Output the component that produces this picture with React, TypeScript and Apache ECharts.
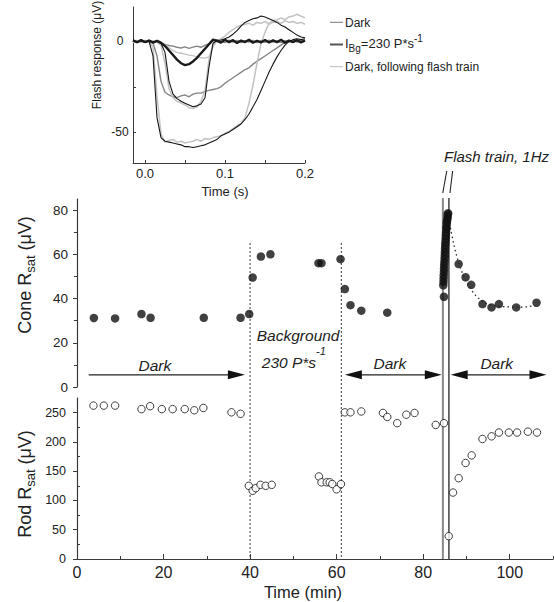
import React, { useEffect, useRef } from "react";
import * as echarts from "echarts";

// ---------- Inset: flash responses (time in s, response in µV) ----------
const T = [-0.015, -0.01, -0.005, 0, 0.005, 0.01, 0.015, 0.02, 0.025, 0.03, 0.035, 0.04, 0.045, 0.05, 0.055, 0.06, 0.065, 0.07, 0.075, 0.08, 0.085, 0.09, 0.095, 0.1, 0.105, 0.11, 0.115, 0.12, 0.125, 0.13, 0.135, 0.14, 0.145, 0.15, 0.155, 0.16, 0.165, 0.17, 0.175, 0.18, 0.185, 0.19, 0.195, 0.2];

const darkSmall = [0.6, -0.4, 0.8, -0.3, 0.5, -0.6, 0.3, -0.8, -2.5, -5, -7.5, -10, -12, -13, -12.5, -11, -9, -6.5, -4, -1.5, 1, 0.3, -0.6, 0.9, -0.4, 0.7, -0.8, 0.5, -0.3, 0.9, -0.7, 0.4, -0.5, 0.8, -0.6, 0.6, -0.4, 0.9, -0.7, 0.5, -0.3, 0.7, -0.5, 0.6];
const bgSmall = [0.5, -0.7, 0.3, -0.4, 0.7, -0.5, 0.2, -0.9, -1.6, -2.2, -2.6, -3.2, -3.6, -3, -3.8, -3.1, -2.6, -3.2, -2.2, -1.2, 0.4, 1, 0.2, -0.6, 0.8, -0.4, 0.6, -0.7, 0.5, -0.3, 0.6, -0.6, 0.4, -0.5, 0.7, -0.4, 0.3, -0.6, 0.5, -0.3, 0.6, -0.4, 0.4, 0.1];
const flashSmall = [0.3, -0.5, 0.6, -0.2, 0.4, -0.6, 0.5, -0.3, -1.5, -3.5, -5, -6, -6.5, -7, -7.5, -7.8, -8.5, -9, -9.2, -8.5, -3, 0.5, -0.4, 0.6, -0.3, 0.7, -0.5, 0.4, -0.6, 0.8, -0.2, 0.5, -0.7, 0.4, -0.3, 0.6, -0.5, 0.7, -0.4, 0.3, -0.6, 0.5, -0.2, 0.4];
const darkMed = [0.4, -0.5, 0.3, -0.6, 0.5, -0.3, 0.2, -1, -6, -22, -29, -31.5, -33, -34, -35, -36, -35.5, -34.5, -31, -14, -1, 0.5, 0.8, 1.5, 2.5, 4, 6, 8.5, 10.5, 11.5, 12.5, 13, 14, 13.5, 12.5, 11.5, 10.5, 9, 8, 6.5, 5, 3.5, 2.5, 2];
const flashMed = [-0.3, 0.6, -0.4, 0.5, -0.2, 0.4, -0.5, -2, -12, -26, -31, -33, -34, -35, -36.5, -37, -36, -33, -27, -10, -1.5, 0.5, 1.5, 3, 5, 6.5, 8, 9, 9.5, 10, 9, 10.5, 10, 11, 9.5, 10.5, 11, 10, 11.5, 10.5, 11, 10, 10.5, 9.5];
const bgMed = [0.5, -0.4, 0.6, -0.3, 0.4, -0.8, -8, -22, -28, -29.5, -30.5, -31, -30, -29.5, -30.5, -29, -28.5, -28.5, -27.5, -27, -26.5, -26, -25, -23, -21.5, -20, -18.5, -17, -15.5, -14.5, -12.5, -11, -9.5, -8, -6.5, -5, -3.5, -2, -0.5, 0.3, -0.4, 0.5, -0.3, 0.4];
const darkLarge = [0.3, -0.4, 0.5, -0.3, 0.2, -8, -42, -53, -55, -55.5, -56, -56.5, -57, -58, -58, -58.5, -58, -57.5, -57, -56, -55, -54, -52, -51, -50, -48.5, -47, -45.5, -43, -40, -36, -32, -27, -22, -17, -12.5, -8.5, -5, -2, 0, 1, 1.5, 1, 1.5];
const flashLarge = [-0.4, 0.3, -0.5, 0.4, -0.3, -3, -30, -51, -55.5, -54.5, -54, -55.5, -55, -56, -55.5, -55, -54, -55, -53.5, -54, -53, -52.5, -52, -50.5, -49.5, -48, -46.5, -45, -42, -34, -24, -12, -1, 5, 10, 11.5, 12, 13, 12, 13.5, 14, 15, 14, 13];

const insetXLabels = [0, 0.1, 0.2];
const insetXTicks = [0, 0.05, 0.1, 0.15, 0.2];
const insetYLabels = [-50, 0];
const insetYTicks = [-50, -25, 0];

// ---------- Cone R_sat (µV) vs time (min) ----------
const coneT = [3.9, 8.8, 14.9, 17, 29.3, 37.8, 39.8, 40.6, 42.5, 44.7, 55.8, 56.5, 60.9, 61.9, 63.2, 65.7, 71.7, 84.8, 88.2, 89.8, 91.1, 93.7, 95.8, 97.5, 101.5, 106.2];
const coneV = [31.2, 31, 33, 31.3, 31.3, 31.3, 33, 49.5, 59, 60, 56, 56, 57.8, 44.3, 37, 34.5, 33.6, 40.8, 55.6, 49.6, 46.2, 37.5, 36, 37.5, 36, 38.1];
const trainT = [84.65, 84.7, 84.72, 84.75, 84.8, 84.82, 84.85, 84.9, 84.95, 85.0, 85.02, 85.05, 85.1, 85.15, 85.2, 85.25, 85.3, 85.35, 85.4, 85.45, 85.5, 85.6, 85.65, 85.7, 85.75];
const trainV = [46, 47.5, 49, 50.5, 52, 53.5, 55, 56.5, 58, 59.5, 61, 62.5, 64, 65.5, 67, 68.5, 70, 71.5, 72.5, 74, 75, 76, 77, 78, 78.6];
const fitT = [85.8, 86.3, 86.8, 87.3, 87.8, 88.3, 88.8, 89.5, 90.3, 91.2, 92.2, 93.3, 94.5, 96, 98, 100, 102, 104, 105.8];
const fitV = [78, 72, 67, 62.5, 58.8, 55.6, 52.8, 49.5, 46.5, 43.7, 41.2, 39.2, 37.8, 36.9, 36.4, 36.2, 36.1, 36.2, 36.8];
const coneLabels = [0, 20, 40, 60, 80];
const coneMinor = [10, 30, 50, 70];

// ---------- Rod R_sat (µV) vs time (min) ----------
const rodT = [3.8, 6.2, 8.8, 14.9, 16.9, 19.6, 22.1, 24.9, 27.1, 29.2, 35.7, 37.8, 39.7, 40.6, 41.3, 42.4, 43.6, 45, 55.9, 56.5, 57.7, 58.4, 59, 60, 61, 61.9, 63.2, 65.7, 70.7, 71.7, 74, 76.1, 78, 82.9, 84.8, 85.9, 86.9, 88.2, 89.8, 91.2, 93.7, 95.8, 97.5, 99.8, 101.7, 104.2, 106.3];
const rodV = [262, 262, 262, 256, 261, 256, 256, 256, 254, 258, 250.5, 248, 125, 116.5, 121, 126.7, 125, 126.7, 141, 131, 131, 131, 128, 119, 128, 250.5, 250.5, 252, 249.5, 242.6, 232, 246.5, 249.5, 229, 232, 39, 113.5, 138, 164, 177, 205, 209.5, 216, 216, 216, 217.5, 216];
const rodLabels = [0, 50, 100, 150, 200, 250];
const rodMinor = [25, 75, 125, 175, 225];
const timeLabels = [0, 20, 40, 60, 80, 100];
const timeMinor = [10, 30, 50, 70, 90, 110];

// Event times (min)
const bgOn = 40;
const bgOff = 61.1;
const trainStart = 84.55;
const trainEnd = 85.95;

const FONT = "'Liberation Sans', Arial, Helvetica, sans-serif";
const AX = "#3a3a3a";
const TXT = "#222";

const zip = (xs: number[], ys: number[]) => xs.map((x, i) => [x, ys[i]]);

export default function App() {
  const ref = useRef<HTMLDivElement>(null);
  useEffect(() => {
    document.body.style.margin = "0";
    const chart = echarts.init(ref.current as HTMLDivElement, null, { renderer: "svg" });

    const trace = (vals: number[], color: string, width: number) => ({
      type: "line",
      xAxisIndex: 0,
      yAxisIndex: 0,
      data: zip(T, vals),
      symbol: "none",
      silent: true,
      lineStyle: { color, width },
    });

    const lineSt = { show: true, lineStyle: { color: AX, width: 1.2 } };

    chart.setOption({
      animation: false,
      backgroundColor: "#fff",
      grid: [
        { left: 133, top: 7, width: 172, height: 156 },
        { left: 77, top: 199, width: 476, height: 188 },
        { left: 77, top: 398, width: 476, height: 161 },
      ],
      xAxis: [
        {
          type: "value", gridIndex: 0, min: -0.015, max: 0.2,
          axisLine: { show: true, onZero: false, lineStyle: { color: AX, width: 1 } },
          axisTick: { show: true, inside: true, length: 3, customValues: insetXTicks, lineStyle: { color: AX } },
          axisLabel: { customValues: insetXLabels, formatter: (v: number) => v.toFixed(1), fontSize: 13, margin: 4, color: TXT, fontFamily: FONT },
          splitLine: { show: false },
        },
        { type: "value", gridIndex: 1, min: 0, max: 110, show: false },
        {
          type: "value", gridIndex: 2, min: 0, max: 110,
          axisLine: { ...lineSt, onZero: false },
          axisTick: { show: true, inside: true, length: 5, customValues: timeLabels, lineStyle: { color: AX } },
          axisLabel: { customValues: timeLabels, fontSize: 16, margin: 5, color: TXT, fontFamily: FONT },
          splitLine: { show: false },
        },
        {
          type: "value", gridIndex: 2, min: 0, max: 110, position: "bottom",
          axisLine: { show: false },
          axisTick: { show: true, inside: true, length: 3, customValues: timeMinor, lineStyle: { color: AX } },
          axisLabel: { show: false },
          splitLine: { show: false },
        },
      ],
      yAxis: [
        {
          type: "value", gridIndex: 0, min: -67, max: 19,
          axisLine: { show: true, onZero: false, lineStyle: { color: AX, width: 1 } },
          axisTick: { show: true, inside: true, length: 3, customValues: insetYTicks, lineStyle: { color: AX } },
          axisLabel: { customValues: insetYLabels, fontSize: 12, margin: 13, align: "center", color: TXT, fontFamily: FONT },
          splitLine: { show: false },
        },
        {
          type: "value", gridIndex: 1, min: 0, max: 85,
          axisLine: { ...lineSt, onZero: false },
          axisTick: { show: true, length: 4, customValues: coneLabels, lineStyle: { color: AX } },
          axisLabel: { customValues: coneLabels, fontSize: 13.5, margin: 9, color: TXT, fontFamily: FONT },
          splitLine: { show: false },
        },
        {
          type: "value", gridIndex: 2, min: 0, max: 275,
          axisLine: { ...lineSt, onZero: false },
          axisTick: { show: true, length: 4, customValues: rodLabels, lineStyle: { color: AX } },
          axisLabel: { customValues: rodLabels, fontSize: 12.5, margin: 11, color: TXT, fontFamily: FONT },
          splitLine: { show: false },
        },
        {
          type: "value", gridIndex: 1, min: 0, max: 85, position: "left",
          axisLine: { show: false },
          axisTick: { show: true, length: 3, customValues: coneMinor, lineStyle: { color: AX } },
          axisLabel: { show: false },
          splitLine: { show: false },
        },
        {
          type: "value", gridIndex: 2, min: 0, max: 275, position: "left",
          axisLine: { show: false },
          axisTick: { show: true, inside: true, length: 3, customValues: rodMinor, lineStyle: { color: AX } },
          axisLabel: { show: false },
          splitLine: { show: false },
        },
      ],
      series: [
        trace(bgMed, "#858585", 1.4),
        trace(bgSmall, "#858585", 1.4),
        trace(flashMed, "#c2c2c2", 1.5),
        trace(flashLarge, "#c2c2c2", 1.5),
        trace(flashSmall, "#c2c2c2", 1.4),
        trace(darkMed, "#151515", 1.1),
        trace(darkLarge, "#151515", 1.1),
        trace(darkSmall, "#1a1a1a", 2.4),
        {
          type: "line", xAxisIndex: 1, yAxisIndex: 1, data: zip(fitT, fitV), symbol: "none", silent: true,
          lineStyle: { color: "#222", width: 1.2, type: [1.5, 3] },
        },
        {
          type: "scatter", xAxisIndex: 1, yAxisIndex: 1, data: zip(coneT, coneV), symbol: "circle", symbolSize: 8.5,
          itemStyle: { color: "#111" }, silent: true,
        },
        {
          type: "scatter", xAxisIndex: 1, yAxisIndex: 1, data: zip(trainT, trainV), symbol: "circle", symbolSize: 8.5,
          itemStyle: { color: "#111" }, silent: true,
        },
        {
          type: "scatter", xAxisIndex: 2, yAxisIndex: 2, data: zip(rodT, rodV), symbol: "circle", symbolSize: 7.5,
          itemStyle: { color: "#fff", borderColor: "#111", borderWidth: 1 }, silent: true,
        },
      ],
    });

    const px = (t: number) => chart.convertToPixel({ xAxisIndex: 1 }, t) as number;
    const cy = (v: number) => chart.convertToPixel({ yAxisIndex: 1 }, v) as number;
    const ry = (v: number) => chart.convertToPixel({ yAxisIndex: 2 }, v) as number;

    const ln = (x1: number, y1: number, x2: number, y2: number, stroke: string, lineWidth: number, lineDash?: number[]) => ({
      type: "line", silent: true, shape: { x1, y1, x2, y2 }, style: { stroke, lineWidth, lineDash },
    });
    const head = (xTip: number, y: number, dir: number) => ({
      type: "polygon", silent: true,
      shape: { points: [[xTip, y], [xTip - dir * 17, y - 4.5], [xTip - dir * 17, y + 4.5]] },
      style: { fill: "#111" },
    });
    const txt = (x: number, y: number, text: string, fontSize: number, extra: any = {}) => ({
      type: "text", silent: true, x, y,
      style: { text, fontSize, fontFamily: FONT, fill: TXT, align: "center", verticalAlign: "middle", ...extra },
    });

    const ya = cy(5.5);
    const yTop = cy(85) - 1;
    const yBot = ry(0);
    const xg = px(trainStart);
    const xb = px(trainEnd);

    const graphic: any[] = [
      // dotted background on/off lines
      ln(px(bgOn), cy(65), px(bgOn), yBot, "#222", 1.2, [1.5, 2.5]),
      ln(px(bgOff), cy(65), px(bgOff), yBot, "#222", 1.2, [1.5, 2.5]),
      // flash train double lines
      ln(xg, yTop, xg, yBot, "#8a8a8a", 2),
      ln(xb, yTop, xb, yBot, "#111", 1.2),
      ln(xg - 0.1, 193, xg + 3.9, 171, "#222", 1.1),
      ln(xb + 1, 193, xb + 3.7, 171, "#222", 1.1),
      // Dark arrows
      ln(px(2.7), ya, px(38.8) - 10, ya, "#222", 1.3),
      head(px(38.8), ya, 1),
      ln(px(61.9) + 10, ya, px(84.3) - 10, ya, "#222", 1.3),
      head(px(61.9), ya, -1),
      head(px(84.3), ya, 1),
      ln(px(86.35) + 10, ya, px(108.5) - 10, ya, "#222", 1.3),
      head(px(86.35), ya, -1),
      head(px(108.5), ya, 1),
      txt(px(18), cy(9.5), "Dark", 15.5, { fontStyle: "italic" }),
      txt(px(72.3), cy(10.8), "Dark", 15.5, { fontStyle: "italic" }),
      txt(px(97), cy(10.8), "Dark", 15.5, { fontStyle: "italic" }),
      txt(px(51.1), cy(23.5), "Background", 15.5, { fontStyle: "italic" }),
      {
        type: "text", silent: true, x: px(42.7), y: cy(11),
        style: {
          text: "{a|230 P*s}{p|-1}", align: "left", verticalAlign: "middle", fill: TXT,
          rich: {
            a: { fontSize: 15.5, lineHeight: 34, fontStyle: "italic", fontFamily: FONT, fill: TXT },
            p: { fontSize: 11, lineHeight: 10, verticalAlign: "top", fontStyle: "italic", fontFamily: FONT, fill: TXT },
          },
        },
      },
      txt(444, 156, "Flash train, 1Hz", 15, { fontStyle: "italic", align: "left" }),
      // inset legend
      ln(330, 22.3, 343, 22.3, "#7a7a7a", 1),
      ln(330, 44.5, 343, 44.5, "#555", 2),
      ln(330, 66.7, 343, 66.7, "#bdbdbd", 1),
      txt(345, 22.5, "Dark", 12, { align: "left" }),
      {
        type: "text", silent: true, x: 345, y: 43,
        style: {
          text: "{a|I}{s|Bg}{a|=230 P*s}{p|-1}", align: "left", verticalAlign: "middle", fill: TXT,
          rich: {
            a: { fontSize: 13, lineHeight: 20, fontFamily: FONT, fill: TXT },
            s: { fontSize: 10, lineHeight: 10, verticalAlign: "bottom", fontFamily: FONT, fill: TXT },
            p: { fontSize: 10, lineHeight: 10, verticalAlign: "top", fontFamily: FONT, fill: TXT },
          },
        },
      },
      txt(345, 66.5, "Dark, following flash train", 12, { align: "left" }),
      // axis titles
      { ...txt(97, 55, "Flash response (\u03bcV)", 12), rotation: Math.PI / 2 },
      txt(225, 191, "Time (s)", 13),
      txt(303, 592, "Time (min)", 16.5),
      {
        type: "text", silent: true, x: 25, y: 275, rotation: Math.PI / 2,
        style: {
          text: "{a|Cone R}{s|sat}{a| (\u03bcV)}", align: "center", verticalAlign: "middle", fill: TXT,
          rich: {
            a: { fontSize: 18, lineHeight: 24, fontFamily: FONT, fill: TXT },
            s: { fontSize: 13, lineHeight: 12, verticalAlign: "bottom", fontFamily: FONT, fill: TXT },
          },
        },
      },
      {
        type: "text", silent: true, x: 25, y: 484, rotation: Math.PI / 2,
        style: {
          text: "{a|Rod R}{s|sat}{a| (\u03bcV)}", align: "center", verticalAlign: "middle", fill: TXT,
          rich: {
            a: { fontSize: 18, lineHeight: 24, fontFamily: FONT, fill: TXT },
            s: { fontSize: 13, lineHeight: 12, verticalAlign: "bottom", fontFamily: FONT, fill: TXT },
          },
        },
      },
    ];

    chart.setOption({ graphic });

    return () => chart.dispose();
  }, []);

  return (
    <div
      ref={ref}
      style={{ position: "fixed", left: 0, top: 0, width: 554, height: 602, background: "#fff" }}
    />
  );
}
